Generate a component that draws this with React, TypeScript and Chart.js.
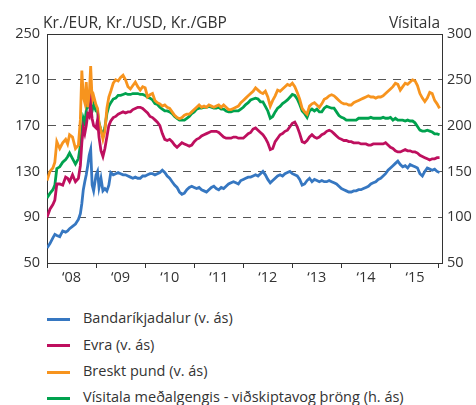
import React, { useEffect, useRef } from "react";
import { Chart, registerables } from "chart.js";

Chart.register(...registerables);

// Decimal-year dates shared by all series
const dates = [
  2008.0, 2008.06, 2008.12, 2008.16, 2008.2, 2008.26, 2008.32, 2008.38, 2008.42, 2008.46,
  2008.52, 2008.58, 2008.64, 2008.68, 2008.71, 2008.74, 2008.77, 2008.8, 2008.83, 2008.86,
  2008.89, 2008.92, 2008.95,
  2009.0, 2009.03, 2009.06, 2009.1, 2009.14, 2009.18, 2009.22, 2009.26, 2009.3, 2009.35,
  2009.4, 2009.45, 2009.5, 2009.55,
  2009.6, 2009.65, 2009.7, 2009.75, 2009.8, 2009.85, 2009.9, 2009.95,
  2010.0, 2010.05, 2010.1, 2010.15, 2010.2, 2010.25, 2010.3, 2010.35, 2010.4, 2010.45,
  2010.5, 2010.55, 2010.6, 2010.65, 2010.7, 2010.75, 2010.8, 2010.85, 2010.9, 2010.95,
  2011.0, 2011.05, 2011.1, 2011.15, 2011.2, 2011.25, 2011.3, 2011.35, 2011.4, 2011.45,
  2011.5, 2011.55, 2011.6, 2011.65, 2011.7, 2011.75, 2011.8, 2011.85, 2011.9, 2011.95,
  2012.0, 2012.05, 2012.1, 2012.15, 2012.2, 2012.25, 2012.3, 2012.35, 2012.4, 2012.45,
  2012.5, 2012.55, 2012.6, 2012.65, 2012.7, 2012.75, 2012.8, 2012.85, 2012.9, 2012.95,
  2013.0, 2013.05, 2013.1, 2013.15, 2013.2, 2013.25, 2013.3, 2013.35, 2013.4, 2013.45,
  2013.5, 2013.55, 2013.6, 2013.65, 2013.7, 2013.75, 2013.8, 2013.85, 2013.9, 2013.95,
  2014.0, 2014.05, 2014.1, 2014.15, 2014.2, 2014.25, 2014.3, 2014.35, 2014.4, 2014.45,
  2014.5, 2014.55, 2014.6, 2014.65, 2014.7, 2014.75, 2014.8, 2014.85, 2014.9, 2014.95,
  2015.0, 2015.05, 2015.1, 2015.15, 2015.2, 2015.25, 2015.3, 2015.35, 2015.4, 2015.45,
  2015.5, 2015.55, 2015.6, 2015.65, 2015.7, 2015.75, 2015.8, 2015.85, 2015.9, 2015.95,
  2016.0,
];

// Bandaríkjadalur (left axis)
const usd = [
  63, 67, 72, 75, 74, 73, 78, 77, 78, 80, 82, 84, 88, 93, 102, 114, 121, 127, 135, 144, 149, 118, 113,
  127, 130, 116, 124, 113, 115, 113, 118, 129, 127, 128, 129, 128, 127,
  127, 126, 125, 124, 125, 124, 124, 126,
  126, 127, 128, 128, 127, 128, 129, 131, 129, 126, 124, 121, 118, 116, 112, 110, 111, 114, 116, 117,
  116, 115, 116, 114, 113, 112, 114, 116, 117, 115, 114, 116, 115, 117, 119, 120, 121, 120, 119, 122,
  123, 124, 125, 125, 126, 127, 126, 128, 130, 127, 123, 120, 122, 124, 126, 127, 126, 128, 129, 130,
  128, 127, 126, 123, 118, 119, 122, 124, 121, 123, 122, 121, 122, 121, 121, 122, 121, 120, 119, 117,
  115, 114, 113, 112, 112, 113, 113, 114, 114, 115, 116, 117, 119, 120, 121, 123, 124, 126, 128, 131,
  133, 135, 137, 139, 136, 134, 135, 133, 136, 135, 134, 133, 128, 126, 130, 133, 132, 131, 132, 130,
  129,
];

// Evra (left axis)
const eur = [
  90, 97, 101, 105, 119, 119, 118, 125, 124, 121, 127, 121, 124, 135, 155, 168, 163, 170, 180, 178, 188, 176, 170,
  168, 175, 160, 148, 143, 150, 160, 170, 174, 177, 178, 180, 181, 182,
  181, 182, 182, 184, 185, 186, 186, 185,
  183, 181, 178, 177, 175, 173, 170, 163, 158, 157, 158, 156, 153, 151, 153, 155, 154, 153, 152, 153,
  156, 158, 159, 161, 162, 163, 164, 165, 165, 165, 164, 162, 160, 159, 159, 159, 160, 160, 159, 159,
  159, 161, 163, 164, 167, 168, 166, 164, 162, 159, 155, 149, 150, 156, 159, 162, 163, 165, 166, 169,
  172, 173, 169, 163, 156, 155, 157, 160, 162, 160, 159, 160, 162, 163, 165, 166, 165, 163, 161, 159,
  158, 157, 157, 156, 156, 155, 155, 155, 154, 154, 154, 153, 153, 154, 154, 154, 154, 154, 155, 153,
  151, 150, 148, 147, 147, 148, 149, 148, 148, 147, 147, 146, 144, 143, 142, 141, 140, 141, 141, 142,
  142,
];

// Breskt pund (left axis)
const gbp = [
  122, 130, 133, 138, 156, 150, 155, 158, 154, 162, 160, 150, 153, 175, 218, 195, 190, 208, 186, 195, 222, 192, 196,
  188, 185, 172, 166, 158, 165, 185, 195, 200, 207, 210, 209, 212, 214,
  210, 204, 202, 205, 208, 204, 201, 204,
  203, 195, 197, 198, 192, 190, 189, 187, 188, 186, 185, 182, 179, 177, 176, 177, 179, 180, 180, 182,
  184, 186, 188, 186, 187, 186, 188, 187, 186, 187, 188, 186, 188, 186, 184, 184, 185, 186, 187, 190,
  192, 194, 196, 198, 200, 203, 201, 199, 198, 200, 195, 187, 192, 196, 201, 200, 202, 204, 206, 205,
  207, 204, 199, 193, 185, 182, 180, 187, 189, 190, 188, 186, 189, 193, 194, 196, 197, 196, 194, 192,
  190, 189, 189, 188, 188, 190, 191, 192, 193, 194, 195, 196, 195, 195, 194, 195, 195, 196, 198, 200,
  202, 204, 207, 206, 201, 204, 207, 206, 208, 210, 209, 205, 198, 194, 191, 194, 199, 198, 192, 189,
  185,
];

// Vísitala meðalgengis - viðskiptavog þröng (right axis)
const twi = [
  121, 126, 130, 135, 153, 155, 160, 163, 166, 170, 164, 158, 164, 178, 194, 208, 203, 216, 228, 220, 218, 216, 223,
  216, 215, 203, 195, 189, 198, 213, 221, 225, 229, 230, 233, 233, 234,
  235, 234, 234, 235, 235, 235, 234, 234,
  233, 231, 230, 228, 224, 223, 220, 218, 216, 216, 215, 213, 210, 208, 206, 206, 206, 208, 210, 213,
  215, 218, 219, 219, 220, 220, 221, 220, 219, 219, 220, 218, 218, 216, 215, 215, 216, 216, 216, 218,
  220, 223, 225, 228, 229, 230, 229, 226, 226, 221, 216, 208, 210, 215, 219, 221, 224, 226, 228, 231,
  234, 233, 229, 223, 216, 213, 209, 216, 218, 216, 218, 215, 215, 219, 221, 220, 219, 219, 215, 211,
  209, 208, 206, 206, 206, 206, 206, 208, 208, 208, 208, 208, 209, 208, 208, 208, 208, 209, 208, 208,
  209, 206, 208, 206, 206, 206, 205, 206, 205, 205, 203, 199, 195, 194, 194, 195, 194, 193, 191, 191,
  190,
];

const seriesLabels = [
  "Bandaríkjadalur (v. ás)",
  "Evra (v. ás)",
  "Breskt pund (v. ás)",
  "Vísitala meðalgengis - viðskiptavog þröng (h. ás)",
];
const seriesColors = ["#3677C1", "#BE0F5E", "#F7941E", "#00A24E"];

const yearStarts = [2008, 2009, 2010, 2011, 2012, 2013, 2014, 2015];
const yearLabels = ["‘08", "‘09", "‘10", "‘11", "‘12", "‘13", "‘14", "‘15"];
const xEndTick = 2015.97;

const leftTitle = "Kr./EUR, Kr./USD, Kr./GBP";
const rightTitle = "Vísitala";

const FONT = '"Open Sans", sans-serif';
const TEXT = "#333333";

export default function App() {
  const ref = useRef<HTMLCanvasElement | null>(null);

  useEffect(() => {
    document.body.style.margin = "0";
    const canvas = ref.current;
    if (!canvas) return;

    const tickList: { value: number; label: string; major: boolean }[] = [];
    yearStarts.forEach((y, i) => {
      tickList.push({ value: y, label: "", major: true });
      tickList.push({ value: y + 0.5, label: yearLabels[i], major: false });
    });
    tickList.push({ value: xEndTick, label: "", major: true });

    const mk = (vals: number[]) => dates.map((d, i) => ({ x: d, y: vals[i] }));

    const framePlugin = {
      id: "frame",
      afterDraw(chart: any) {
        const { ctx, chartArea } = chart;
        ctx.save();
        ctx.strokeStyle = "#333";
        ctx.lineWidth = 1;
        ctx.beginPath();
        ctx.moveTo(chartArea.left, Math.round(chartArea.top) + 0.5);
        ctx.lineTo(chartArea.right, Math.round(chartArea.top) + 0.5);
        ctx.stroke();
        ctx.fillStyle = TEXT;
        ctx.font = `15.5px ${FONT}`;
        ctx.textBaseline = "alphabetic";
        ctx.textAlign = "left";
        ctx.fillText(leftTitle, 43, 28);
        ctx.textAlign = "right";
        ctx.fillText(rightTitle, 440, 28);
        ctx.restore();
      },
    };

    const chart = new Chart(canvas, {
      type: "line",
      data: {
        datasets: [
          { label: seriesLabels[0], data: mk(usd), borderColor: seriesColors[0], yAxisID: "y" },
          { label: seriesLabels[1], data: mk(eur), borderColor: seriesColors[1], yAxisID: "y" },
          { label: seriesLabels[2], data: mk(gbp), borderColor: seriesColors[2], yAxisID: "y" },
          { label: seriesLabels[3], data: mk(twi), borderColor: seriesColors[3], yAxisID: "y2" },
        ].map((d) => ({ ...d, borderWidth: 2.8, pointRadius: 0, tension: 0, fill: false })),
      },
      options: {
        animation: false,
        responsive: false,
        maintainAspectRatio: false,
        layout: { padding: { top: 34, left: 0, right: 0, bottom: 0 } },
        plugins: { legend: { display: false }, tooltip: { enabled: false } },
        scales: {
          x: {
            type: "linear",
            min: 2008,
            max: 2016.05,
            afterBuildTicks: (s: any) => {
              s.ticks = tickList.map((t) => ({ value: t.value }));
            },
            afterFit: (s: any) => {
              s.height = 27;
            },
            ticks: {
              autoSkip: false,
              maxRotation: 0,
              minRotation: 0,
              padding: 1,
              color: TEXT,
              font: { family: FONT, size: 14.5 },
              callback: (v: any) => {
                const t = tickList.find((k) => Math.abs(k.value - Number(v)) < 1e-6);
                return t ? t.label : "";
              },
            },
            grid: {
              drawOnChartArea: false,
              drawTicks: true,
              tickLength: 5,
              lineWidth: 1,
              color: (ctx: any) => {
                const v = ctx.tick ? ctx.tick.value : 0;
                const t = tickList.find((k) => Math.abs(k.value - v) < 1e-6);
                return t && t.major ? "#333" : "rgba(0,0,0,0)";
              },
            },
            border: { display: true, color: "#333", width: 1 },
          },
          y: {
            position: "left",
            min: 50,
            max: 250,
            afterFit: (s: any) => {
              s.width = 47;
            },
            ticks: { stepSize: 40, padding: 7, color: TEXT, font: { family: FONT, size: 14.5 } },
            grid: {
              drawTicks: false,
              lineWidth: 1,
              color: (ctx: any) => {
                const v = ctx.tick ? ctx.tick.value : 0;
                return v === 50 || v === 250 ? "rgba(0,0,0,0)" : "#555";
              },
            },
            border: { display: true, color: "#333", width: 1, dash: [8, 7] },
          },
          y2: {
            position: "right",
            min: 50,
            max: 300,
            afterFit: (s: any) => {
              s.width = 34;
            },
            ticks: { stepSize: 50, padding: 5, color: TEXT, font: { family: FONT, size: 14.5 } },
            grid: { drawOnChartArea: false, drawTicks: false },
            border: { display: true, color: "#333", width: 1 },
          },
        },
      },
      plugins: [framePlugin],
    } as any);

    return () => chart.destroy();
  }, []);

  const legendTops = [319, 345.5, 372, 398];

  return (
    <div style={{ position: "relative", width: 476, height: 405, overflow: "hidden", background: "#fff" }}>
      <canvas ref={ref} width={476} height={290} style={{ display: "block", width: 476, height: 290 }} />
      {seriesLabels.map((lab, i) => (
        <div key={lab}>
          <div
            style={{
              position: "absolute",
              left: 47,
              top: legendTops[i] - 1.5,
              width: 23,
              height: 3,
              background: seriesColors[i],
            }}
          />
          <div
            style={{
              position: "absolute",
              left: 83,
              top: legendTops[i] - 11,
              height: 20,
              lineHeight: "20px",
              fontFamily: FONT,
              fontSize: 14.5,
              color: TEXT,
              whiteSpace: "nowrap",
            }}
          >
            {lab}
          </div>
        </div>
      ))}
    </div>
  );
}
